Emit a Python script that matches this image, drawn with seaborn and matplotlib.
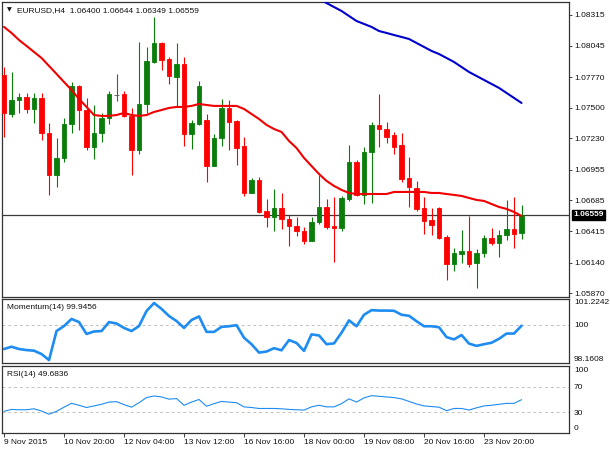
import numpy as np
import pandas as pd
import seaborn as sns
import matplotlib.pyplot as plt
from matplotlib.transforms import blended_transform_factory

# EURUSD H4 candles (bar 0 = 9 Nov 12:00)
opens = [1.07788, 1.07445, 1.07568, 1.07595, 1.07489, 1.07586, 1.07278, 1.06909, 1.07059, 1.07357,
         1.07691, 1.07480, 1.07155, 1.07278, 1.07410, 1.07612, 1.07621, 1.07428, 1.07129, 1.07533,
         1.07902, 1.08069, 1.07928, 1.07770, 1.07885, 1.07270, 1.07357, 1.07392, 1.06988, 1.07234,
         1.07498, 1.07384, 1.07164, 1.06751, 1.06865, 1.06593, 1.06540, 1.06619, 1.06523, 1.06461,
         1.06417, 1.06329, 1.06496, 1.06628, 1.06461, 1.06444, 1.06698, 1.07023, 1.06734, 1.07111,
         1.07349, 1.07313, 1.07261, 1.07173, 1.06883, 1.06795, 1.06619, 1.06514, 1.06619, 1.06365,
         1.06127, 1.06215, 1.06241, 1.06136, 1.06224, 1.06356, 1.06312, 1.06382, 1.06435, 1.06400]
highs = [1.07858, 1.07814, 1.07630, 1.07630, 1.07630, 1.07630, 1.07366, 1.07234, 1.07410, 1.07726,
         1.07700, 1.07586, 1.07524, 1.07454, 1.07647, 1.07797, 1.07647, 1.07498, 1.08078, 1.08034,
         1.08297, 1.08078, 1.07946, 1.08069, 1.07946, 1.07392, 1.07735, 1.07445, 1.07270, 1.07577,
         1.07568, 1.07392, 1.07243, 1.06883, 1.06892, 1.06698, 1.06786, 1.06751, 1.06558, 1.06540,
         1.06452, 1.06540, 1.06909, 1.06698, 1.06716, 1.06725, 1.07173, 1.07041, 1.07155, 1.07375,
         1.07621, 1.07375, 1.07287, 1.07278, 1.07067, 1.06857, 1.06716, 1.06619, 1.06628, 1.06382,
         1.06268, 1.06426, 1.06549, 1.06259, 1.06382, 1.06444, 1.06426, 1.06690, 1.06716, 1.06644]
lows = [1.07243, 1.07419, 1.07454, 1.07454, 1.07366, 1.07217, 1.06734, 1.06804, 1.07023, 1.07278,
        1.07305, 1.07129, 1.07050, 1.07199, 1.07357, 1.07559, 1.07419, 1.06909, 1.07094, 1.07454,
        1.07893, 1.07832, 1.07709, 1.07507, 1.07164, 1.07138, 1.07349, 1.06848, 1.06988, 1.07164,
        1.07129, 1.06997, 1.06725, 1.06751, 1.06575, 1.06452, 1.06417, 1.06435, 1.06285, 1.06373,
        1.06303, 1.06329, 1.06479, 1.06435, 1.06145, 1.06417, 1.06681, 1.06725, 1.06654, 1.06663,
        1.07155, 1.07190, 1.07094, 1.06848, 1.06628, 1.06593, 1.06391, 1.06382, 1.06347, 1.05987,
        1.06066, 1.06136, 1.06101, 1.05916, 1.06189, 1.06294, 1.06189, 1.06338, 1.06268, 1.06349]
closes = [1.07454, 1.07568, 1.07595, 1.07489, 1.07586, 1.07278, 1.06909, 1.07059, 1.07357, 1.07691,
          1.07480, 1.07155, 1.07278, 1.07410, 1.07621, 1.07612, 1.07428, 1.07129, 1.07533, 1.07911,
          1.08069, 1.07920, 1.07779, 1.07885, 1.07270, 1.07366, 1.07691, 1.06988, 1.07234, 1.07498,
          1.07375, 1.07146, 1.06751, 1.06865, 1.06584, 1.06540, 1.06619, 1.06523, 1.06461, 1.06417,
          1.06329, 1.06496, 1.06628, 1.06452, 1.06444, 1.06707, 1.07023, 1.06734, 1.07111, 1.07349,
          1.07313, 1.07243, 1.07155, 1.06874, 1.06804, 1.06611, 1.06505, 1.06470, 1.06356, 1.06127,
          1.06224, 1.06241, 1.06127, 1.06224, 1.06356, 1.06312, 1.06382, 1.06435, 1.06391, 1.06559]

# red moving average, one value per bar
ma_fast = [1.08210, 1.08157, 1.08095, 1.08043, 1.07990, 1.07937, 1.07867, 1.07797, 1.07726, 1.07656,
           1.07577, 1.07507, 1.07436, 1.07428, 1.07428, 1.07436, 1.07454, 1.07436, 1.07428, 1.07436,
           1.07463, 1.07480, 1.07498, 1.07507, 1.07507, 1.07516, 1.07533, 1.07524, 1.07516, 1.07516,
           1.07516, 1.07516, 1.07489, 1.07445, 1.07401, 1.07349, 1.07313, 1.07287, 1.07208, 1.07146,
           1.07059, 1.06988, 1.06918, 1.06857, 1.06813, 1.06778, 1.06751, 1.06742, 1.06742, 1.06742,
           1.06742, 1.06742, 1.06760, 1.06760, 1.06760, 1.06760, 1.06760, 1.06751, 1.06751, 1.06742,
           1.06734, 1.06725, 1.06707, 1.06690, 1.06681, 1.06654, 1.06628, 1.06611, 1.06584, 1.06549]

# blue moving average, only visible from bar 42 on
slow_start = 42
ma_slow = [1.08456, 1.08420, 1.08385, 1.08350, 1.08306, 1.08262, 1.08236, 1.08210, 1.08174, 1.08157,
           1.08139, 1.08122, 1.08104, 1.08069, 1.08034, 1.07999, 1.07972, 1.07937, 1.07902, 1.07858,
           1.07814, 1.07779, 1.07744, 1.07709, 1.07674, 1.07630, 1.07586, 1.07542]

momentum = [98.83, 98.94, 98.83, 98.78, 98.75, 98.59, 98.30, 99.69, 99.93, 100.27,
            100.12, 99.55, 99.67, 99.69, 100.12, 100.05, 99.84, 99.69, 99.93, 100.65,
            101.03, 100.75, 100.41, 100.17, 99.84, 100.22, 100.39, 99.65, 99.65, 99.89,
            99.92, 99.97, 99.37, 99.06, 98.66, 98.71, 98.87, 98.77, 99.26, 99.12,
            98.74, 99.53, 99.48, 99.06, 99.10, 99.61, 100.20, 99.92, 100.47, 100.69,
            100.67, 100.67, 100.66, 100.47, 100.42, 100.16, 99.92, 99.92, 99.87, 99.40,
            99.29, 99.50, 99.09, 98.98, 99.06, 99.13, 99.32, 99.57, 99.57, 99.9456]

rsi = [31.5, 34.5, 34.0, 34.0, 35.5, 32.0, 27.0, 31.5, 38.0, 44.0,
       41.0, 37.5, 40.0, 42.5, 46.0, 46.6, 42.0, 38.0, 45.0, 53.0,
       55.5, 54.0, 50.5, 51.5, 41.0, 46.0, 50.0, 39.5, 43.5, 47.0,
       46.0, 45.0, 38.5, 37.5, 36.0, 36.0, 36.0, 35.5, 34.5, 34.0,
       33.5, 38.5, 41.0, 38.5, 38.5, 43.5, 51.0, 46.0, 52.5, 56.0,
       55.0, 54.0, 53.0, 51.0, 47.0, 43.0, 40.0, 39.0, 38.0, 32.5,
       36.0, 36.0, 33.6, 37.0, 40.0, 41.0, 42.5, 44.0, 44.0, 49.6836]

time_label_bars = [0, 8, 16, 24, 32, 40, 48, 56, 64]
time_labels = ["9 Nov 2015", "10 Nov 20:00", "12 Nov 04:00", "13 Nov 12:00", "16 Nov 16:00",
               "18 Nov 00:00", "19 Nov 08:00", "20 Nov 16:00", "23 Nov 20:00"]
price_ticks = [1.08315, 1.08045, 1.07770, 1.07500, 1.07230, 1.06955, 1.06685, 1.06415, 1.06140, 1.05870]
price_labels = ["1.08315", "1.08045", "1.07770", "1.07500", "1.07230", "1.06955", "1.06685",
                "1.06415", "1.06140", "1.05870"]
mom_ticks = [98.1608, 100, 101.2242]
mom_labels = ["98.1608", "100", "101.2242"]
rsi_ticks = [0, 30, 70, 100]
rsi_labels = ["0", "30", "70", "100"]
last_price = 1.06559

df = pd.DataFrame({"bar": np.arange(len(opens)), "open": opens, "high": highs, "low": lows,
                   "close": closes, "ma_fast": ma_fast, "momentum": momentum, "rsi": rsi})
df_slow = pd.DataFrame({"bar": np.arange(slow_start, slow_start + len(ma_slow)), "ma_slow": ma_slow})

sns.set_style("white")
plt.rcParams['font.family'] = ['Liberation Sans', 'DejaVu Sans']
FS = 6.0
FRAME = '#333333'
GREEN = '#0b7d0b'
RED = '#ff0000'
LEVEL = '#c8bebe'

fig = plt.figure(figsize=(6.1, 4.5), dpi=100)
fig.patch.set_facecolor('white')
ax = fig.add_axes([2 / 610, 153 / 450, 567 / 610, 295 / 450])
ax_m = fig.add_axes([2 / 610, 87 / 450, 567 / 610, 64 / 450], sharex=ax)
ax_r = fig.add_axes([2 / 610, 17 / 450, 567 / 610, 67 / 450], sharex=ax)

# candles
col = np.where(df["close"] > df["open"], GREEN, np.where(df["close"] < df["open"], RED, '#555555'))
ax.vlines(df["bar"], df["low"], df["high"], colors=col, lw=0.8, zorder=2)
body_lo = np.minimum(df["open"], df["close"])
body_h = np.abs(df["close"] - df["open"])
ax.bar(df["bar"], body_h, bottom=body_lo, width=0.62, color=col, edgecolor=col, lw=0.6, zorder=3)

sns.lineplot(data=df, x="bar", y="ma_fast", ax=ax, color='#f00000', lw=1.5, zorder=4)
sns.lineplot(data=df_slow, x="bar", y="ma_slow", ax=ax, color='#0000cc', lw=1.5, zorder=4)
ax.axhline(last_price, color='#3a3a3a', lw=0.9, zorder=1)

ax.set_ylim(1.05837, 1.08429)
ax.set_xlim(-0.27, 75.33)

sns.lineplot(data=df, x="bar", y="momentum", ax=ax_m, color='#1e8cf0', lw=1.9)
ax_m.axhline(100, color=LEVEL, lw=0.7, ls=(0, (3, 3)), zorder=0)
ax_m.set_ylim(98.1608, 101.2242)

sns.lineplot(data=df, x="bar", y="rsi", ax=ax_r, color='#1e8cf0', lw=0.8)
for lvl in (30, 70):
    ax_r.axhline(lvl, color=LEVEL, lw=0.7, ls=(0, (3, 3)), zorder=0)
ax_r.set_ylim(-2.3, 102.3)

for a in (ax, ax_m, ax_r):
    a.set_xlabel("")
    a.set_ylabel("")
    a.set_facecolor('white')
    for s in a.spines.values():
        s.set_color(FRAME)
        s.set_linewidth(0.9)
    a.yaxis.tick_right()
    a.tick_params(axis='y', which='both', labelsize=FS, length=2.5, width=0.6, pad=1.5,
                  colors='#222222', labelcolor='#111111')
    a.tick_params(axis='x', bottom=False, labelbottom=False)

ax.set_yticks(price_ticks, price_labels)
ax_m.set_yticks(mom_ticks, mom_labels)
ax_m.tick_params(axis='y', length=0, pad=3.5)
ax_r.set_yticks(rsi_ticks, rsi_labels)
ax_r.tick_params(axis='y', length=0, pad=3.5)
ml = ax_m.get_yticklabels()
ml[0].set_va('bottom')
ml[-1].set_va('top')
rl = ax_r.get_yticklabels()
rl[0].set_va('bottom')
rl[-1].set_va('top')

ax_r.set_xticks(time_label_bars, time_labels)
ax_r.tick_params(axis='x', bottom=True, labelbottom=True, length=3, width=0.6, direction='out',
                 labelsize=FS, pad=1.5, colors='#222222', labelcolor='#111111')
for lbl in ax_r.get_xticklabels():
    lbl.set_ha('left')

# price marker on the right scale
tr = blended_transform_factory(ax.transAxes, ax.transData)
ax.text(1.008, last_price, f"{last_price:.5f}", transform=tr, ha='left', va='center',
        fontsize=FS, color='white', fontweight='bold',
        bbox=dict(boxstyle='square,pad=0.18', fc='black', ec='black'), clip_on=False)

# panel headers
ax.text(0.008, 0.972, "\u25bc", transform=ax.transAxes, fontsize=4.5, ha='left', va='center',
        family='DejaVu Sans', color='#111111')
ax.text(0.026, 0.972, "EURUSD,H4  1.06400 1.06644 1.06349 1.06559", transform=ax.transAxes,
        fontsize=FS, ha='left', va='center', color='#111111')
ax_m.text(0.009, 0.87, "Momentum(14) 99.9456", transform=ax_m.transAxes, fontsize=FS,
          ha='left', va='center', color='#111111')
ax_r.text(0.009, 0.88, "RSI(14) 49.6836", transform=ax_r.transAxes, fontsize=FS,
          ha='left', va='center', color='#111111')

fig.savefig("out.png", dpi=100, facecolor='white')
